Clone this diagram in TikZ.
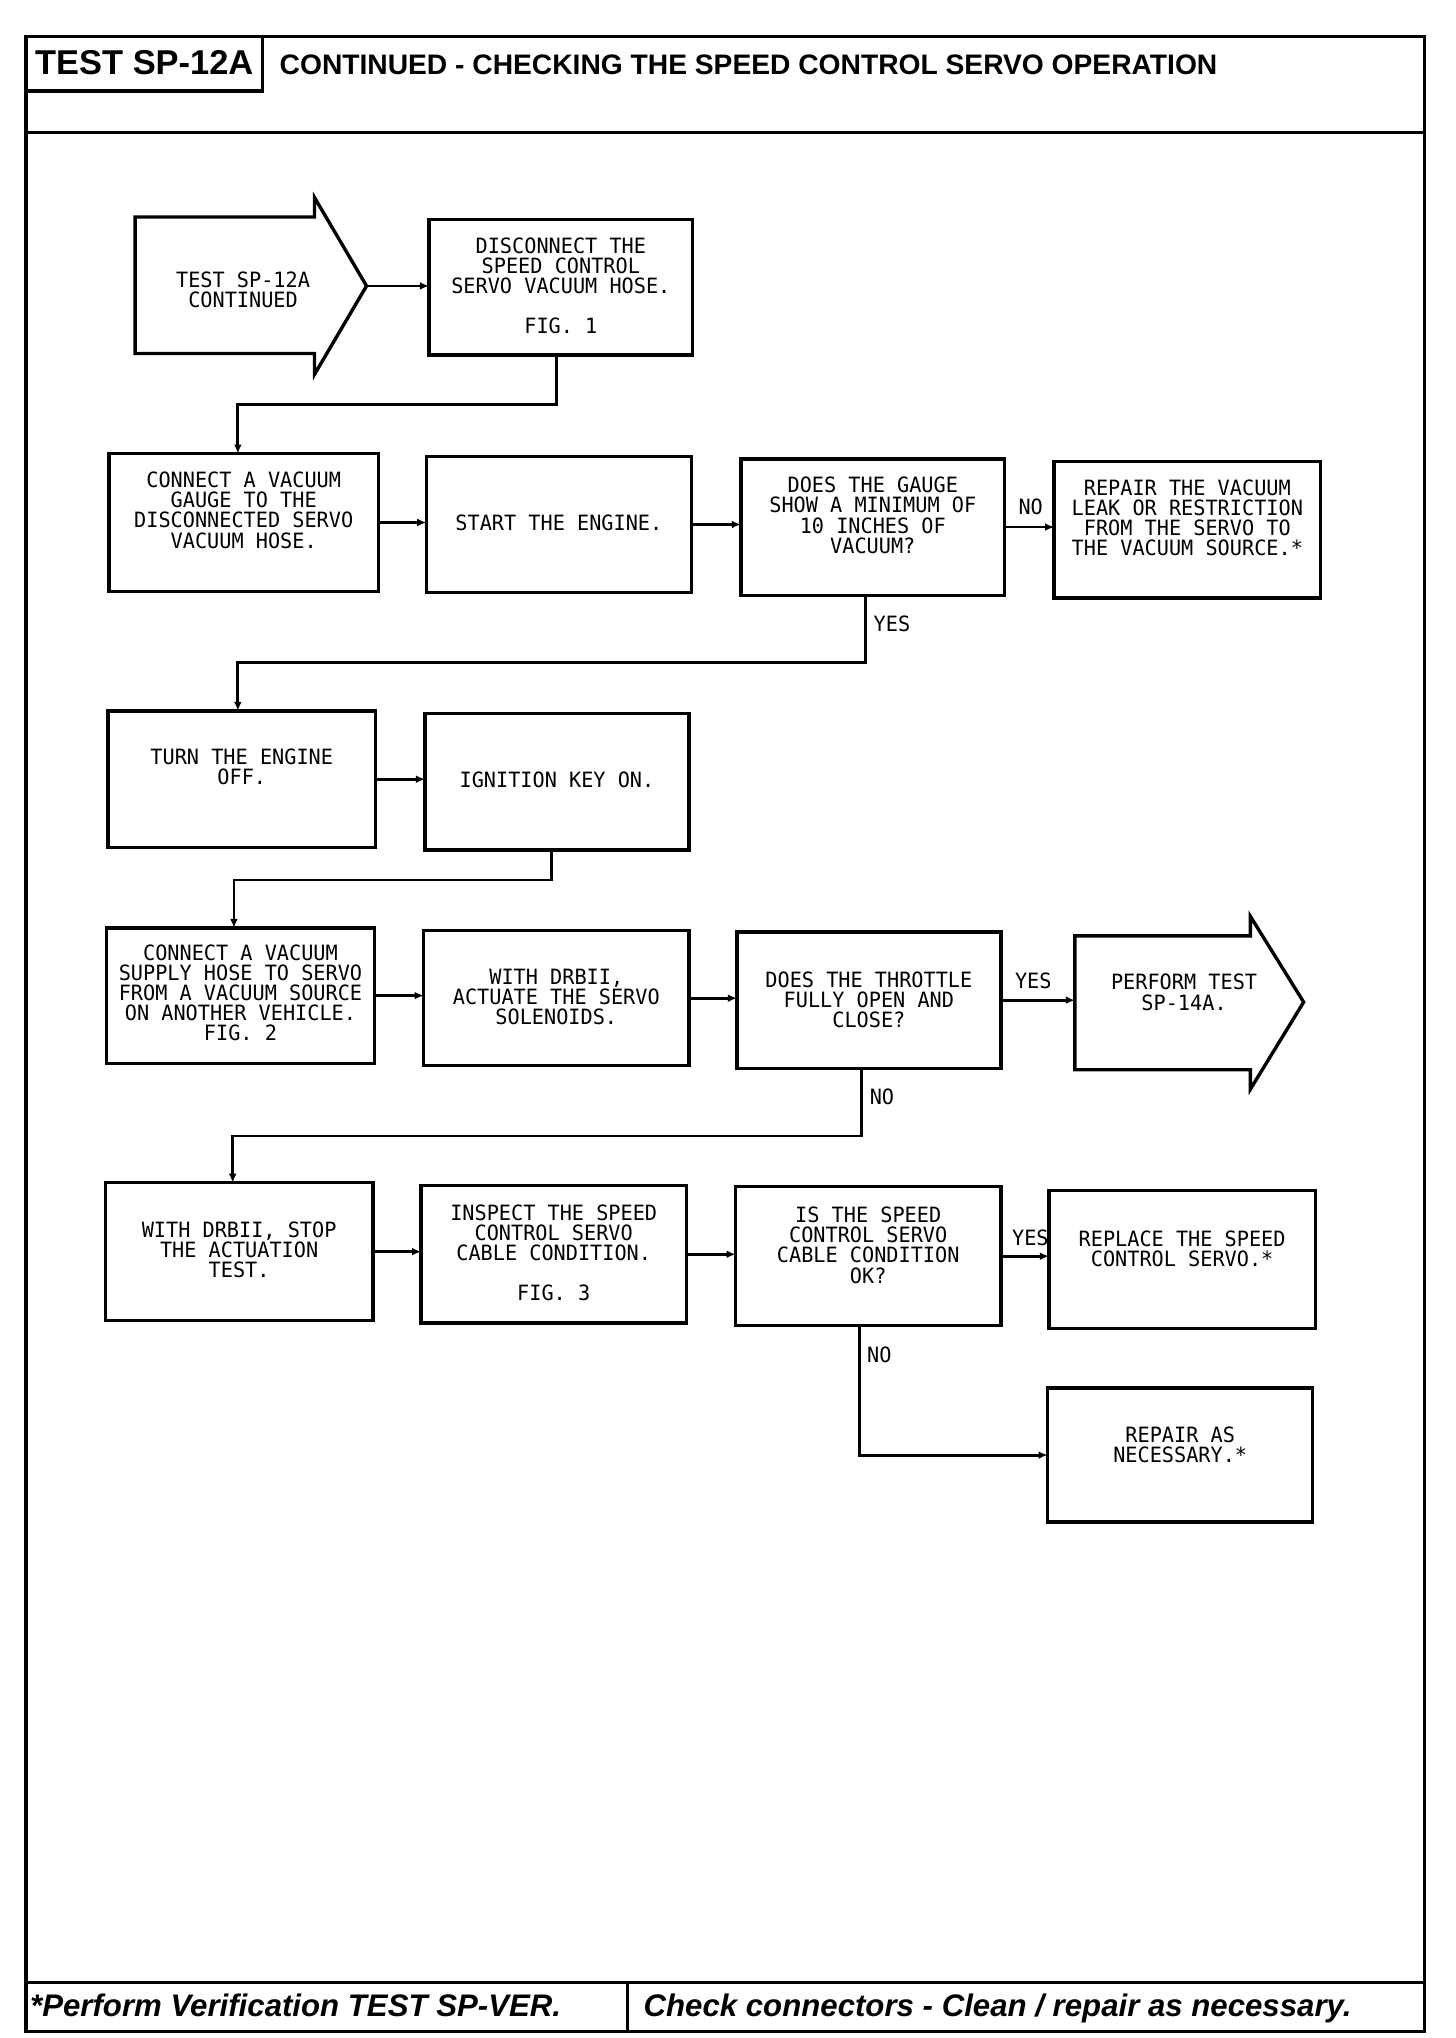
\documentclass[tikz,border=0pt]{standalone}
\usepackage{fontspec}
\setmainfont{Liberation Sans}
\newfontfamily\plotfont[FakeStretch=0.96]{DejaVu Sans Mono}
\usetikzlibrary{arrows.meta}
\begin{document}
\begin{tikzpicture}[x=1pt,y=-1pt,
  box/.style 2 args={draw,line width=2.6pt,inner sep=0pt,outer sep=0pt,minimum width=#1,minimum height=#2},
  txt/.style={font=\plotfont\fontsize{16.2}{15.5}\selectfont,align=center,inner sep=0pt},
  lbl/.style={font=\plotfont\fontsize{16.2}{15.5}\selectfont,inner sep=0pt},
  conn/.style={line width=2.2pt,-{Latex[length=7pt,width=6pt]}},
  frameline/.style={line width=2.4pt},
  arrowshape/.style={draw,line width=2.6pt,line join=miter}]
\useasboundingbox (0,0) rectangle (1120,1568);
% frame
\draw[frameline] (20,28) rectangle (1096,1563);
\draw[frameline] (20,70) -| (202,28);
\draw[frameline] (20,102) -- (1096,102);
\draw[frameline] (20,1525) -- (1096,1525);
\draw[frameline] (483,1525) -- (483,1563);
\node[font=\fontsize{26.5}{30}\selectfont\bfseries,inner sep=0pt] (ttl1) at (111,48) {TEST SP-12A};
\node[font=\fontsize{21.7}{26}\selectfont\bfseries,inner sep=0pt,anchor=west] (ttl2) at (215,50) {CONTINUED - CHECKING THE SPEED CONTROL SERVO OPERATION};
\node[font=\fontsize{24}{28}\selectfont\bfseries\itshape,inner sep=0pt,anchor=west] (ft1) at (23,1543) {*Perform Verification TEST SP-VER.};
\node[font=\fontsize{24}{28}\selectfont\bfseries\itshape,inner sep=0pt,anchor=west] (ft2) at (495,1545) {Check connectors - Clean / repair as necessary.};

% start arrow
\draw[arrowshape] (104,167) -- (242,167) -- (242,152) -- (282,220) -- (242,288) -- (242,272) -- (104,272) -- cycle;
\coordinate (Stip) at (282,220);
\node[txt] (tS) at (187,223) {TEST SP-12A\\CONTINUED};

% row 1
\node[box={203pt}{104pt}] (D1) at (431.5,221) {};
\node[txt] (tD1) at (431.5,220) {DISCONNECT THE\\SPEED CONTROL\\SERVO VACUUM HOSE.\\[15.5pt]FIG. 1};

% row 2
\node[box={207pt}{106pt}] (A) at (187.5,402) {};
\node[txt] (tA) at (187.5,392.5) {CONNECT A VACUUM\\GAUGE TO THE\\DISCONNECTED SERVO\\VACUUM HOSE.};
\node[box={204pt}{105pt}] (B) at (430,403.5) {};
\node[txt] (tB) at (430,402) {START THE ENGINE.};
\node[box={203pt}{105pt}] (C) at (671.5,405.5) {};
\node[txt] (tC) at (671.5,396.5) {DOES THE GAUGE\\SHOW A MINIMUM OF\\10 INCHES OF\\VACUUM?};
\node[box={205pt}{105pt}] (D) at (913.5,407.5) {};
\node[txt] (tD) at (913.5,398.5) {REPAIR THE VACUUM\\LEAK OR RESTRICTION\\FROM THE SERVO TO\\THE VACUUM SOURCE.*};

% row 3
\node[box={206pt}{105pt}] (E) at (186,599.5) {};
\node[txt] (tE) at (186,590) {TURN THE ENGINE\\OFF.};
\node[box={203pt}{105pt}] (F) at (428.5,601.5) {};
\node[txt] (tF) at (428.5,600) {IGNITION KEY ON.};

% row 4
\node[box={206pt}{104pt}] (G) at (185,766) {};
\node[txt] (tG) at (185,764) {CONNECT A VACUUM\\SUPPLY HOSE TO SERVO\\FROM A VACUUM SOURCE\\ON ANOTHER VEHICLE.\\FIG. 2};
\node[box={204pt}{104pt}] (H) at (428,768) {};
\node[txt] (tH) at (428,767) {WITH DRBII,\\ACTUATE THE SERVO\\SOLENOIDS.};
\node[box={203pt}{105pt}] (I) at (668.5,769.5) {};
\node[txt] (tI) at (668.5,769) {DOES THE THROTTLE\\FULLY OPEN AND\\CLOSE?};
\draw[arrowshape] (827,720) -- (962,720) -- (962,705) -- (1003,771) -- (962,838) -- (962,823) -- (827,823) -- cycle;
\coordinate (Jtail) at (827,771);
\node[txt] (tJ) at (911,763.5) {PERFORM TEST\\SP-14A.};

% row 5
\node[box={206pt}{106pt}] (K) at (184,963) {};
\node[txt] (tK) at (184,961.5) {WITH DRBII, STOP\\THE ACTUATION\\TEST.};
\node[box={204pt}{106pt}] (L) at (426,965) {};
\node[txt] (tL) at (426,964) {INSPECT THE SPEED\\CONTROL SERVO\\CABLE CONDITION.\\[15.5pt]FIG. 3};
\node[box={204pt}{107pt}] (M) at (668,966.5) {};
\node[txt] (tM) at (668,958) {IS THE SPEED\\CONTROL SERVO\\CABLE CONDITION\\OK?};
\node[box={205pt}{106pt}] (N) at (909.5,969) {};
\node[txt] (tN) at (909.5,960.5) {REPLACE THE SPEED\\CONTROL SERVO.*};
\node[box={204pt}{103pt}] (O) at (908,1119.5) {};
\node[txt] (tO) at (908,1111.5) {REPAIR AS\\NECESSARY.*};

% connectors
\draw[conn] (Stip) -- (Stip -| D1.west);
\draw[conn] ([xshift=-3.5pt]D1.south) -- ++(0,38) -| ([xshift=-4.5pt]A.north);
\draw[conn] (A.east) -- (A.east -| B.west);
\draw[conn] (B.east) -- (B.east -| C.west);
\draw[conn] (C.east) -- (C.east -| D.west);
\draw[conn] ([xshift=-5.5pt]C.south) -- ++(0,52) -| ([xshift=-3pt]E.north);
\draw[conn] (E.east) -- (E.east -| F.west);
\draw[conn] ([xshift=-4.5pt]F.south) -- ++(0,23) -| ([xshift=-5pt]G.north);
\draw[conn] (G.east) -- (G.east -| H.west);
\draw[conn] (H.east) -- (H.east -| I.west);
\draw[conn] (I.east) -- (I.east -| Jtail);
\draw[conn] ([xshift=-5.5pt]I.south) -- ++(0,52) -| ([xshift=-5pt]K.north);
\draw[conn] (K.east) -- (K.east -| L.west);
\draw[conn] (L.east) -- (L.east -| M.west);
\draw[conn] (M.east) -- (M.east -| N.west);
\draw[conn] ([xshift=-7pt]M.south) |- (O.west);

% labels
\node[lbl] (no1) at (793,390) {NO};
\node[lbl,anchor=west] (yes1) at (672,480) {YES};
\node[lbl] (yes2) at (795,755) {YES};
\node[lbl,anchor=west] (no2) at (669,844) {NO};
\node[lbl,anchor=east] (yes3) at (807,952) {YES};
\node[lbl,anchor=west] (no3) at (667,1042) {NO};
\end{tikzpicture}
\end{document}
